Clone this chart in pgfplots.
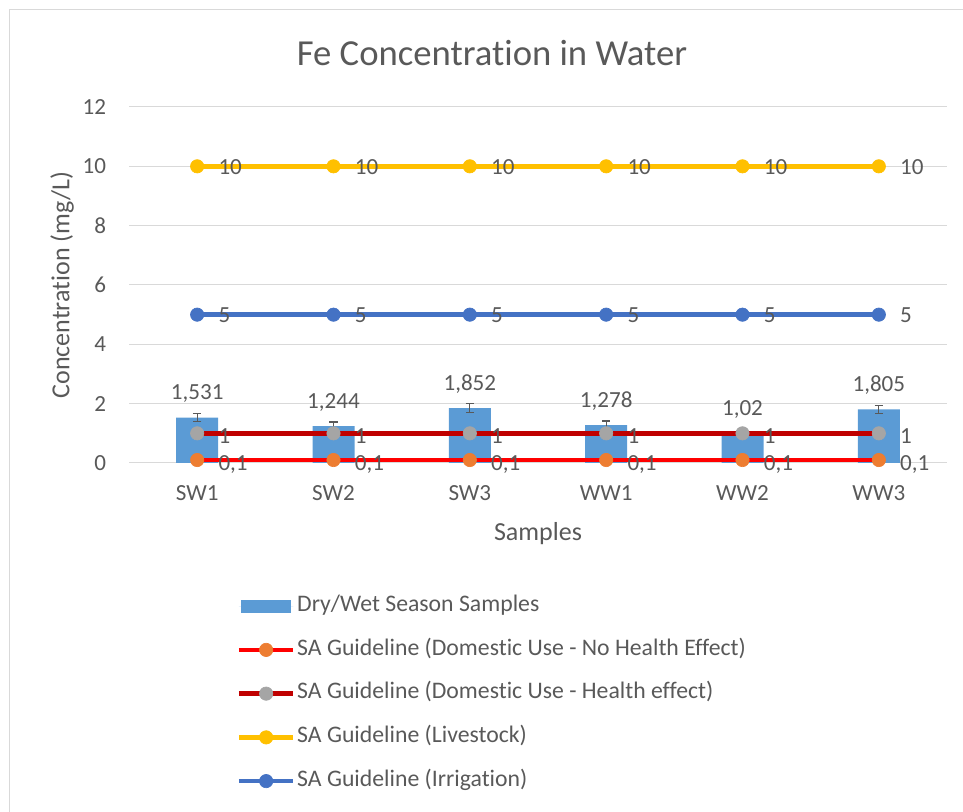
\documentclass[border=0pt]{standalone}
\usepackage{fontspec}
\setmainfont{Carlito}[Ligatures={NoCommon}]
\usepackage{pgfplots}
\pgfplotsset{compat=1.18}
\usepackage{pgfplotstable}
\definecolor{txt}{HTML}{595959}
\definecolor{gridc}{HTML}{D9D9D9}
\definecolor{barblue}{HTML}{5B9BD5}
\definecolor{lred}{HTML}{FF0000}
\definecolor{dred}{HTML}{C00000}
\definecolor{lyel}{HTML}{FFC000}
\definecolor{lblue}{HTML}{4472C4}
\definecolor{morange}{HTML}{ED7D31}
\definecolor{mgray}{HTML}{A5A5A5}
\definecolor{errc}{HTML}{595959}

\pgfplotstableread{
x y e lab
0 1.531 0.14 {1,531}
1 1.244 0.14 {1,244}
2 1.852 0.14 {1,852}
3 1.278 0.14 {1,278}
4 1.02 0.14 {1,02}
5 1.805 0.14 {1,805}
}\bars
\pgfplotstableread{
x y lab
0 0.1 {0,1}
1 0.1 {0,1}
2 0.1 {0,1}
3 0.1 {0,1}
4 0.1 {0,1}
5 0.1 {0,1}
}\gA
\pgfplotstableread{
x y lab
0 1 1
1 1 1
2 1 1
3 1 1
4 1 1
5 1 1
}\gB
\pgfplotstableread{
x y lab
0 10 10
1 10 10
2 10 10
3 10 10
4 10 10
5 10 10
}\gC
\pgfplotstableread{
x y lab
0 5 5
1 5 5
2 5 5
3 5 5
4 5 5
5 5 5
}\gD

\newcommand{\fs}{\fontsize{17.3}{20}\selectfont}
\newcommand{\fl}{\fontsize{17.8}{20}\selectfont}

\begin{document}
\begin{tikzpicture}
\useasboundingbox (0,0) rectangle (722.25pt,609pt);
\draw[color=gridc, line width=0.75pt] (6.75pt,0) -- (6.75pt,601.9pt) -- (722.25pt,601.9pt);
\begin{axis}[
  at={(96.75pt,261.75pt)}, anchor=south west,
  scale only axis, width=613.5pt, height=267pt,
  xmin=-0.5, xmax=5.5, ymin=0, ymax=12,
  ytick={0,2,...,12},
  xtick={0,...,5},
  xticklabels={SW1,SW2,SW3,WW1,WW2,WW3},
  axis line style={draw=none},
  major tick length=0pt,
  ymajorgrids,
  grid style={color=gridc, line width=0.75pt},
  tick label style={font=\fs, text=txt, inner sep=0pt},
  xticklabel style={anchor=north, yshift=-17pt},
  yticklabel style={anchor=east, xshift=-17pt},
  /pgf/number format/assume math mode=true,
  clip=false,
  legend cell align=left,
  legend style={draw=none, fill=none, at={(0.131,-0.364)}, anchor=north west,
    inner sep=0pt, row sep=12.8pt, column sep=0pt, font=\fl,
    nodes={text height=12pt, text depth=4pt, inner xsep=1pt, inner ysep=2pt, text=txt}},
  linelab/.style={nodes near coords, point meta=explicit symbolic,
    nodes near coords style={font=\fs, text=txt, anchor=base west, inner sep=0pt, xshift=15.75pt, yshift=#1}},
  lineleg/.style={legend image code/.code={\draw[mark repeat=2,mark phase=2,##1] plot coordinates {(0pt,0pt) (20.5pt,0pt) (41pt,0pt)};}},
]
\addplot[ybar, bar width=31.5pt, fill=barblue, draw=none,
  nodes near coords, point meta=explicit symbolic,
  nodes near coords style={font=\fs, text=txt, anchor=base, inner sep=0pt, yshift=13.25pt},
  error bars/.cd, y dir=both, y explicit,
  error bar style={color=errc, line width=0.9pt},
  error mark options={rotate=90, mark size=3.2pt, color=errc, line width=0.9pt},
  /pgfplots/legend image code/.code={\path (0pt,0pt) -- (41pt,0pt); \fill[barblue] (1.5pt,-5pt) rectangle (39.5pt,5pt);}
  ] table[x=x, y=y, y error=e, meta=lab]{\bars};
\addlegendentry{Dry/Wet Season Samples}
\addplot[color=lred, line width=3.6pt, mark=*, mark size=5pt,
  mark options={solid, draw=morange, fill=morange, line width=0.5pt}, linelab=-7.75pt, lineleg]
  table[x=x, y=y, meta=lab]{\gA};
\addlegendentry{SA Guideline (Domestic Use - No Health Effect)}
\addplot[color=dred, line width=3.6pt, mark=*, mark size=5pt,
  mark options={solid, draw=mgray, fill=mgray, line width=0.5pt}, linelab=-7.75pt, lineleg]
  table[x=x, y=y, meta=lab]{\gB};
\addlegendentry{SA Guideline (Domestic Use - Health effect)}
\addplot[color=lyel, line width=3.3pt, mark=*, mark size=5pt,
  mark options={solid, draw=lyel, fill=lyel, line width=0.5pt}, linelab=-6pt, lineleg]
  table[x=x, y=y, meta=lab]{\gC};
\addlegendentry{SA Guideline (Livestock)}
\addplot[color=lblue, line width=3.3pt, mark=*, mark size=5pt,
  mark options={solid, draw=lblue, fill=lblue, line width=0.5pt}, linelab=-6pt, lineleg]
  table[x=x, y=y, meta=lab]{\gD};
\addlegendentry{SA Guideline (Irrigation)}
\end{axis}
\node[font=\fontsize{27.5}{32}\selectfont, text=txt] at (369pt,569.25pt) {Fe Concentration in Water};
\node[font=\fontsize{19.5}{23}\selectfont, text=txt, rotate=90] at (46.5pt,395.25pt) {Concentration (mg/L)};
\node[font=\fontsize{19.5}{23}\selectfont, text=txt] at (403.5pt,208.5pt) {Samples};
\end{tikzpicture}
\end{document}
